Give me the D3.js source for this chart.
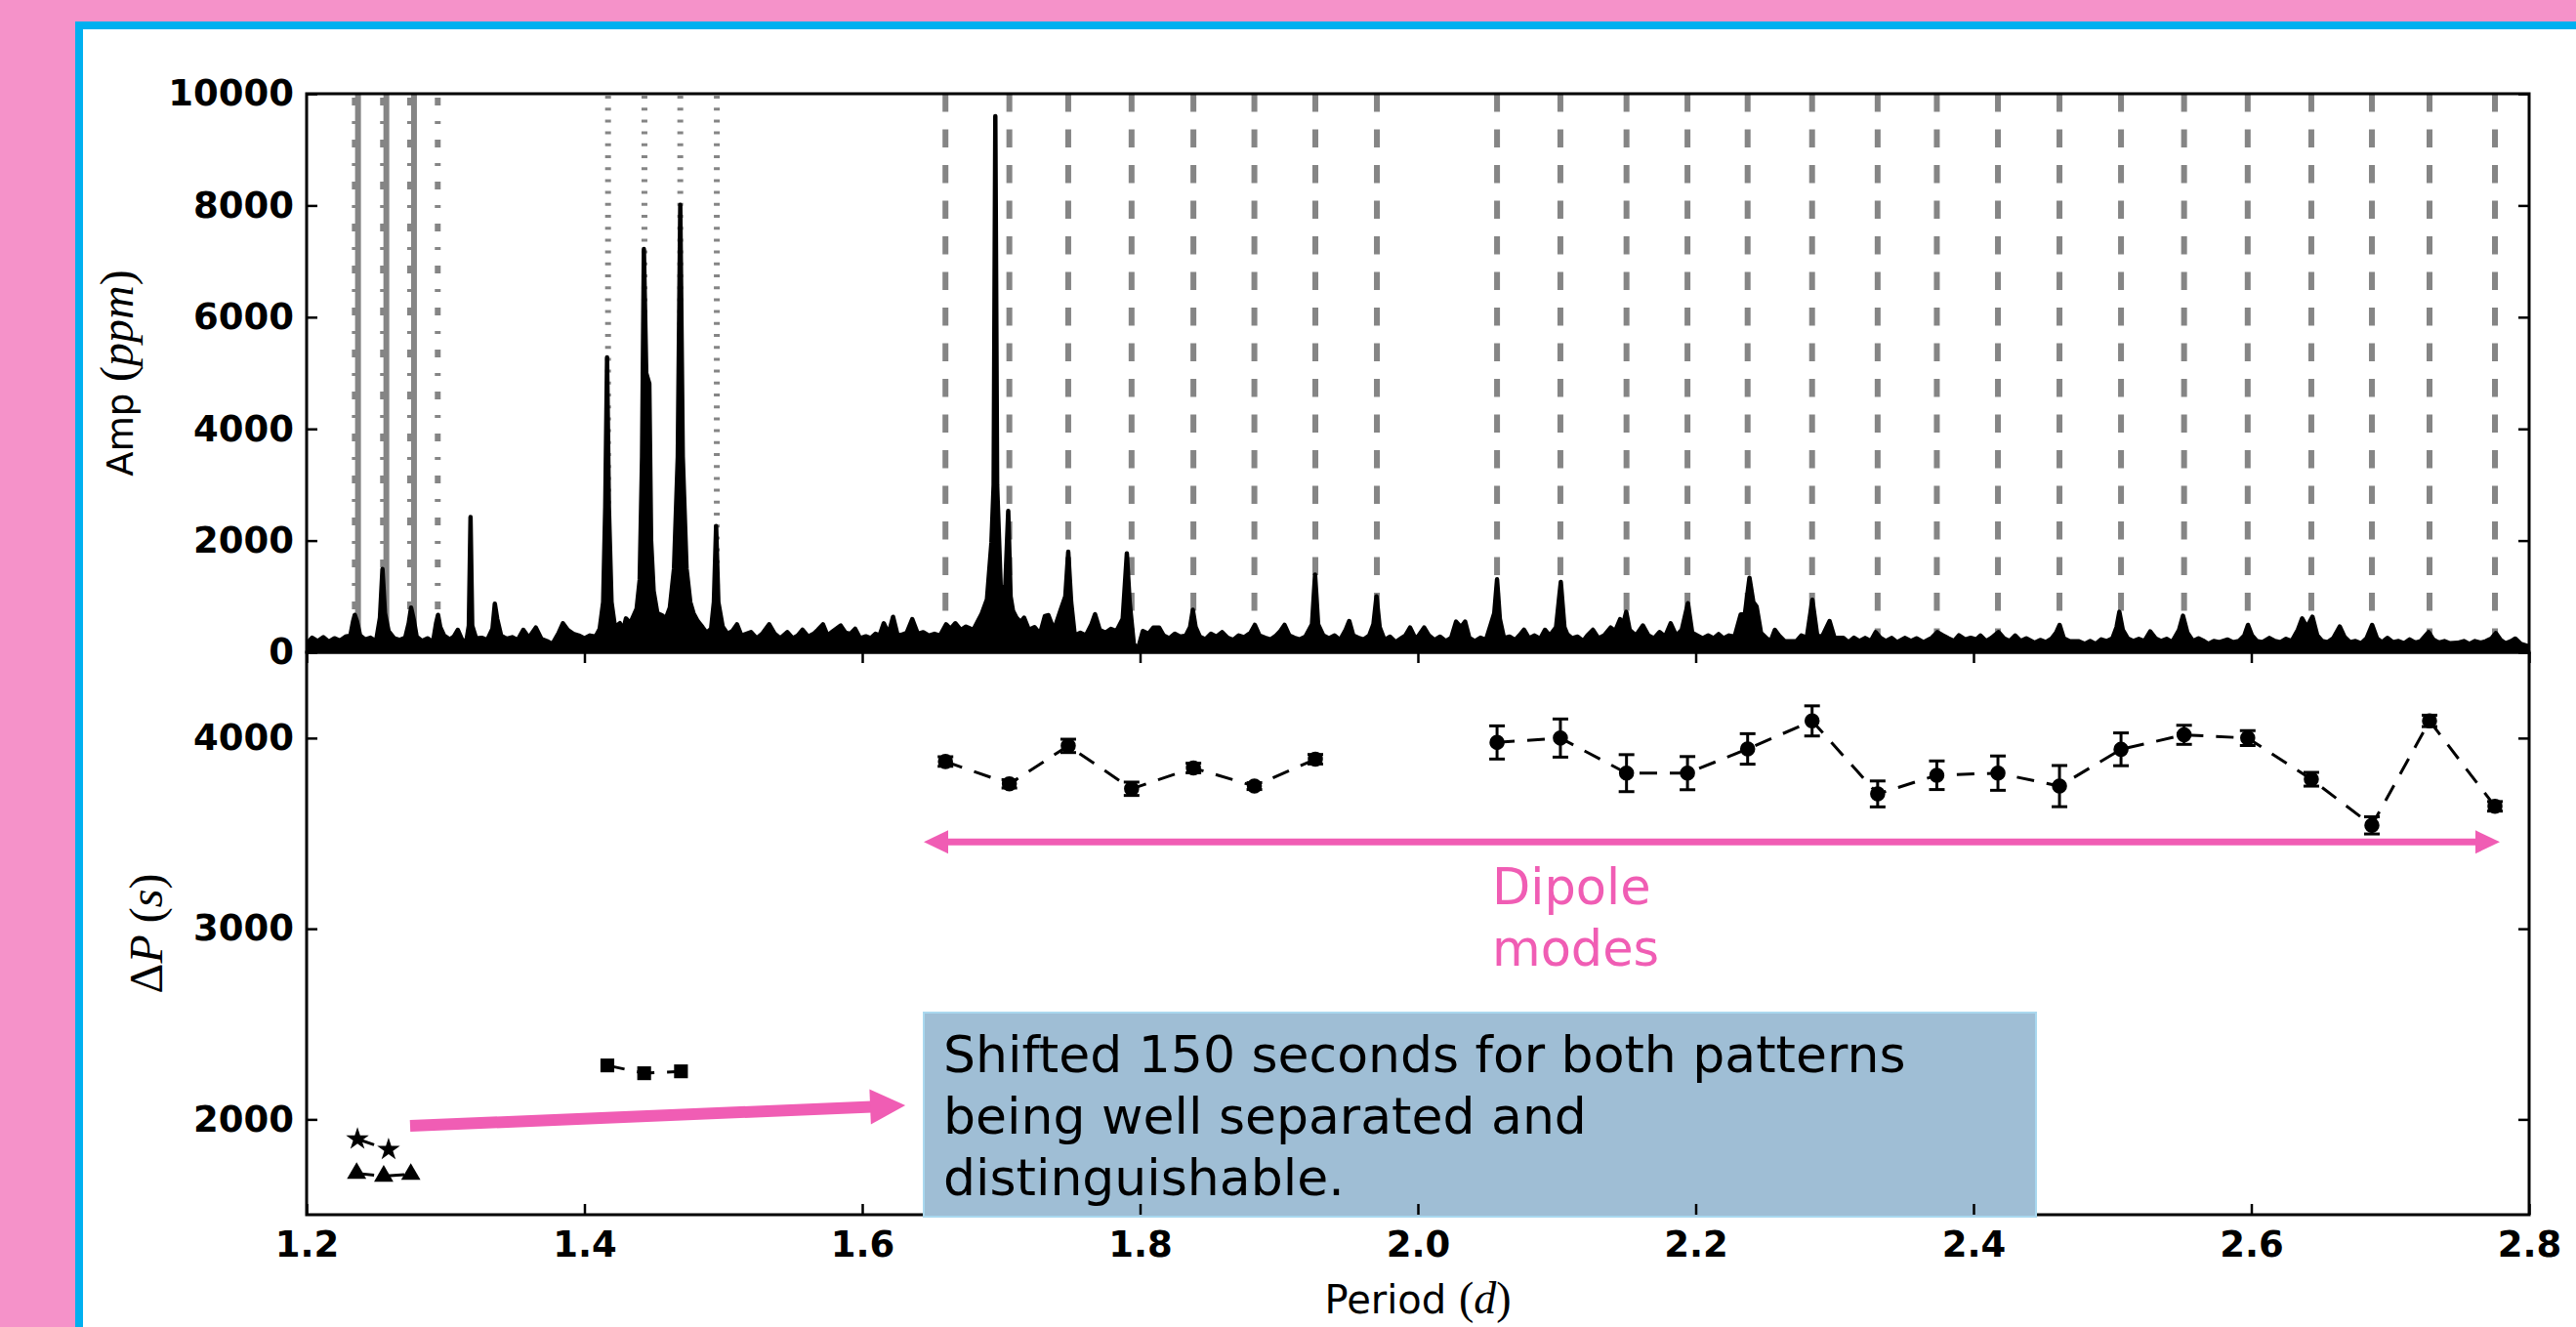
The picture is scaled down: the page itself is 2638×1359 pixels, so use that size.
<!DOCTYPE html>
<html>
<head>
<meta charset="utf-8">
<script src="https://cdn.jsdelivr.net/npm/d3@7"></script>
<style>
  html, body { margin: 0; padding: 0; background: #f592c9; }
  svg { display: block; }
</style>
</head>
<body>
<svg id="chart" width="2638" height="1359"></svg>
<script>
// ---------------- data ----------------
const periodTicks = [1.2, 1.4, 1.6, 1.8, 2.0, 2.2, 2.4, 2.6, 2.8];
const ampTicks = [0, 2000, 4000, 6000, 8000, 10000];
const spacingTicks = [2000, 3000, 4000];

// amplitude spectrum, [period (d), amplitude (ppm)], split by period range
const spectrumA = [
  [1.200,150],[1.204,260],[1.208,200],[1.212,270],[1.216,190],[1.220,250],[1.224,210],[1.228,280],
  [1.2315,300],[1.2335,560],[1.2347,670],[1.2362,560],[1.2385,300],[1.242,230],[1.246,260],[1.250,200],
  [1.2528,620],[1.2546,1490],[1.2564,700],[1.259,380],[1.263,250],[1.267,220],[1.271,260],[1.2735,520],
  [1.2752,800],[1.2770,600],[1.2792,280],[1.283,200],[1.287,250],[1.291,180],[1.2932,520],[1.2946,670],
  [1.2962,450],[1.299,300],[1.303,230],[1.306,280],[1.3088,402],[1.312,220],[1.315,200],[1.3168,480],
  [1.3180,2420],[1.3192,480],[1.322,250],[1.326,260],[1.330,220],[1.3338,420],[1.3355,870],[1.3372,600],
  [1.340,300],[1.344,240],[1.348,270],[1.352,220],[1.356,402],[1.360,260],[1.365,443],[1.369,240],
  [1.373,200],[1.377,150],[1.3815,350],[1.3845,519],[1.388,400],[1.392,330],[1.396,300]
];
const spectrumB = [
  [1.400,250],[1.404,300],[1.408,280],[1.4110,420],[1.4135,900],[1.4150,2600],[1.4163,5280],[1.4176,2600],
  [1.4195,900],[1.4220,450],[1.4255,520],[1.4280,400],[1.4299,606],[1.4330,520],[1.4376,781],[1.4398,1300],
  [1.4415,3500],[1.4428,7220],[1.4445,5000],[1.4467,4810],[1.4480,2000],[1.4498,1100],[1.4525,700],[1.4557,664],
  [1.4585,600],[1.4615,800],[1.4645,1500],[1.4672,3500],[1.4690,8010],[1.4708,3500],[1.4735,1500],[1.4762,900],
  [1.4785,700],[1.4815,559],[1.4850,450],[1.4880,350],[1.4912,420],[1.4932,900],[1.4948,2260],[1.4964,900],
  [1.4995,460],[1.503,330],[1.5065,380],[1.5098,500],[1.513,300],[1.5165,330],[1.5199,361],[1.524,250],
  [1.528,330],[1.533,500],[1.537,330],[1.541,250],[1.546,361],[1.550,250],[1.5535,300],[1.557,402],
  [1.561,280],[1.565,330],[1.568,400],[1.5717,500],[1.575,300],[1.579,380],[1.5845,478],[1.588,350],
  [1.5915,330],[1.5949,420],[1.5985,250]
];
const spectrumC = [
  [1.6026,285],[1.606,250],[1.6095,330],[1.6125,300],[1.6155,519],[1.6190,330],[1.6222,635],[1.6255,300],
  [1.6284,315],[1.632,350],[1.6360,594],[1.6400,330],[1.6439,360],[1.648,300],[1.652,330],[1.656,300],
  [1.6604,500],[1.6635,420],[1.6670,519],[1.6710,400],[1.6747,460],[1.6800,400],[1.6861,693],[1.6898,950],
  [1.6930,1960],[1.6946,3000],[1.6958,9600],[1.6971,3000],[1.6998,1090],[1.7030,1200],[1.7051,2530],[1.7068,1000],
  [1.7085,745],[1.7110,620],[1.7140,540],[1.7165,620],[1.7200,400],[1.7240,450],[1.7280,330],[1.7315,650],
  [1.7340,664],[1.7380,400],[1.7427,750],[1.7462,1000],[1.7483,1800],[1.7504,900],[1.7530,300],[1.757,350],
  [1.761,300],[1.7650,500],[1.7676,680],[1.7710,400],[1.775,350],[1.779,420],[1.783,380],[1.7875,600],
  [1.7905,1770],[1.7925,900],[1.7955,150],[1.7985,60],[1.8020,380],[1.806,330],[1.8095,440],[1.8137,443],
  [1.817,300],[1.821,250],[1.825,330],[1.829,280],[1.833,300],[1.8360,450],[1.8380,760],[1.8400,450],
  [1.843,280],[1.847,230],[1.851,330],[1.855,280],[1.859,360],[1.863,260],[1.867,220],[1.871,300],
  [1.875,270],[1.8795,350],[1.8826,490],[1.8860,300],[1.890,260],[1.894,230],[1.898,300],[1.9010,380],
  [1.9040,490],[1.9075,300],[1.911,260],[1.915,230],[1.919,280],[1.9238,500],[1.9260,1390],[1.9282,500],
  [1.932,300],[1.936,250],[1.940,300],[1.944,220],[1.9480,400],[1.9506,560],[1.9535,300],[1.957,260],
  [1.961,230],[1.9650,300],[1.9680,500],[1.9702,1000],[1.9725,450],[1.976,220],[1.980,280],[1.984,180],
  [1.988,250],[1.9910,300],[1.9944,443],[1.9980,260]
];
const spectrumD = [
  [2.000,280],[2.0045,443],[2.008,300],[2.012,220],[2.016,280],[2.020,200],[2.024,260],[2.0275,548],
  [2.031,450],[2.034,548],[2.037,260],[2.041,200],[2.045,260],[2.049,220],[2.0524,490],[2.0550,700],
  [2.0570,1305],[2.0590,600],[2.062,256],[2.066,280],[2.070,220],[2.073,300],[2.0764,402],[2.080,250],
  [2.084,300],[2.088,240],[2.0915,402],[2.095,300],[2.0995,450],[2.1029,1260],[2.1055,450],[2.1075,326],
  [2.111,250],[2.115,280],[2.119,200],[2.122,300],[2.126,402],[2.130,250],[2.134,300],[2.1388,443],
  [2.142,380],[2.1456,594],[2.1478,500],[2.1500,723],[2.1525,400],[2.157,300],[2.162,478],[2.166,300],
  [2.170,250],[2.174,361],[2.178,280],[2.182,519],[2.186,300],[2.190,400],[2.1944,880],[2.1975,350],
  [2.201,303],[2.205,250],[2.209,300],[2.213,250],[2.2165,326],[2.220,250],[2.224,300],[2.228,280],
  [2.2324,676],[2.2355,700],[2.2387,1334],[2.2415,900],[2.2438,822],[2.247,350],[2.251,250],[2.254,200],
  [2.257,402],[2.260,300],[2.264,200],[2.2725,198],[2.276,300],[2.280,260],[2.2840,938],[2.2875,300],
  [2.291,280],[2.2964,559],[2.300,256],[2.3063,256],[2.310,180],[2.314,260],[2.318,200],[2.322,256],
  [2.326,200],[2.3296,361],[2.333,260],[2.337,200],[2.341,256],[2.345,180],[2.3505,256],[2.355,200],
  [2.359,250],[2.364,180],[2.370,260],[2.374,361],[2.378,303],[2.382,250],[2.386,200],[2.3895,303],
  [2.394,230],[2.398,260]
];
const spectrumE = [
  [2.402,230],[2.405,300],[2.409,200],[2.413,260],[2.4180,361],[2.422,250],[2.426,200],[2.430,300],
  [2.434,200],[2.438,250],[2.4440,169],[2.448,220],[2.452,180],[2.456,240],[2.4595,350],[2.4620,490],
  [2.4650,250],[2.469,200],[2.4755,198],[2.480,150],[2.484,200],[2.488,150],[2.492,230],[2.496,200],
  [2.500,250],[2.5030,450],[2.5050,723],[2.5075,400],[2.511,250],[2.515,200],[2.519,240],[2.523,200],
  [2.5272,373],[2.531,250],[2.535,200],[2.539,240],[2.543,180],[2.5480,400],[2.5508,653],[2.5540,350],
  [2.558,200],[2.5620,250],[2.5652,210],[2.569,150],[2.573,200],[2.577,180],[2.5830,227],[2.587,180],
  [2.591,200],[2.5950,300],[2.5976,490],[2.6005,300],[2.604,200],[2.608,180],[2.6130,256],[2.617,200],
  [2.621,180],[2.625,240],[2.629,200],[2.6335,400],[2.6366,606],[2.6400,450],[2.6440,635],[2.6475,300],
  [2.651,200],[2.655,180],[2.659,250],[2.6637,460],[2.667,280],[2.671,180],[2.675,200],[2.679,160],
  [2.683,250],[2.6870,490],[2.6905,250],[2.694,180],[2.6980,256],[2.702,180],[2.706,200],[2.710,160],
  [2.714,230],[2.718,170],[2.722,200],[2.7277,361],[2.731,230],[2.735,170],[2.739,200],[2.743,160],
  [2.7485,169],[2.753,200],[2.757,150],[2.761,200],[2.765,170],[2.769,200],[2.7730,250],[2.7760,344],
  [2.7795,220],[2.783,160],[2.787,200],[2.7900,245],[2.794,150],[2.798,120],[2.800,100]
];

// identified mode periods (d), marked in the spectrum
const dipoleModePeriods = [1.6599, 1.7059, 1.7483, 1.7939, 1.8384, 1.8823, 1.9262, 1.9705,
  2.0570, 2.1026, 2.1502, 2.1941, 2.2374, 2.2838, 2.3310, 2.3736, 2.4176, 2.4619, 2.5062,
  2.5516, 2.5974, 2.6432, 2.6868, 2.7283, 2.7754];
const dashDotModePeriods = [1.2347, 1.2550, 1.2745, 1.2944];
const solidModePeriods = [1.2370, 1.2574, 1.2773];
const dottedModePeriods = [1.4170, 1.4432, 1.4690, 1.4953];

// period spacings (s) with uncertainties
const dipoleRun1Period = [1.6599, 1.7059, 1.7483, 1.7939, 1.8384, 1.8823, 1.9262];
const dipoleRun1Spacing = [3877, 3760, 3959, 3734, 3843, 3748, 3889];
const dipoleRun1Error = [25, 22, 35, 35, 25, 18, 25];
const dipoleRun2Period = [2.0570, 2.1026, 2.1502, 2.1941, 2.2374, 2.2838, 2.3310, 2.3736, 2.4176,
  2.4619, 2.5062, 2.5516, 2.5974, 2.6432, 2.6868, 2.7283, 2.7754];
const dipoleRun2Spacing = [3977, 4000, 3816, 3816, 3943, 4090, 3707, 3805, 3816, 3748, 3941, 4017,
  4000, 3784, 3542, 4090, 3642];
const dipoleRun2Error = [87, 100, 97, 87, 80, 79, 68, 75, 90, 108, 86, 50, 39, 36, 45, 30, 25];
const starPeriod = [1.2366, 1.2590];
const starSpacing = [1897, 1841];
const trianglePeriod = [1.2360, 1.2555, 1.2750];
const triangleSpacing = [1717, 1702, 1712];
const squarePeriod = [1.4165, 1.4430, 1.4695];
const squareSpacing = [2283, 2242, 2252];

const annotationLines = ["Shifted 150 seconds for both patterns", "being well separated and", "distinguishable."];
const dipoleLabel = ["Dipole", "modes"];

// ---------------- layout ----------------
const W = 2638, H = 1359;
const L = 314, R = 2590, T = 96, M = 668, B = 1244;
const pink = "#f05db4";
const sans = "DejaVu Sans";
const serif = "Liberation Serif";

const svg = d3.select("#chart");

// slide background: pink page, blue rule, white card
svg.append("rect").attr("width", W).attr("height", H).attr("fill", "#f592c9");
svg.append("rect").attr("x", 77).attr("y", 22).attr("width", W - 77).attr("height", H - 22).attr("fill", "#00b0f0");
svg.append("rect").attr("x", 85).attr("y", 30).attr("width", W - 85).attr("height", H - 30).attr("fill", "#ffffff");

const x = d3.scaleLinear().domain([1.2, 2.8]).range([L, R]);
const yAmp = d3.scaleLinear().domain([0, 10000]).range([M, T]);
const yDP = d3.scaleLinear().domain([1500, 4450]).range([B, M]);

const defs = svg.append("defs");
defs.append("clipPath").attr("id", "clipTop").append("rect")
  .attr("x", L).attr("y", T).attr("width", R - L).attr("height", M - T);
defs.append("clipPath").attr("id", "clipBottom").append("rect")
  .attr("x", L).attr("y", M).attr("width", R - L).attr("height", B - M);

// ---------------- amplitude panel ----------------
const ampPanel = svg.append("g").attr("clip-path", "url(#clipTop)");

function modeLines(periods, dash, offset) {
  ampPanel.append("g").selectAll("line").data(periods).join("line")
    .attr("x1", d => x(d)).attr("x2", d => x(d))
    .attr("y1", yAmp(10000)).attr("y2", yAmp(0))
    .attr("stroke", "#858585").attr("stroke-width", 6)
    .attr("stroke-dasharray", dash).attr("stroke-dashoffset", offset);
}
modeLines(dipoleModePeriods, "18.5,18", 0);
modeLines(dashDotModePeriods, "8,16,3,16", -4);
modeLines(solidModePeriods, null, 0);
modeLines(dottedModePeriods, "3,9.2", -2);

const spectrum = [].concat(spectrumA, spectrumB, spectrumC, spectrumD, spectrumE);
ampPanel.append("path").datum(spectrum)
  .attr("d", d3.area().x(d => x(d[0])).y0(yAmp(0)).y1(d => yAmp(d[1])))
  .attr("fill", "#000").attr("stroke", "#000").attr("stroke-width", 4.5)
  .attr("stroke-linejoin", "round");

// ---------------- period-spacing panel ----------------
const spacingPanel = svg.append("g").attr("clip-path", "url(#clipBottom)");
const dpLine = d3.line().x(d => x(d[0])).y(d => yDP(d[1]));

function series(periods, spacing, errors, symbol, size) {
  const pts = periods.map((p, i) => [p, spacing[i], errors ? errors[i] : 0]);
  spacingPanel.append("path").datum(pts).attr("d", dpLine)
    .attr("fill", "none").attr("stroke", "#000").attr("stroke-width", 3)
    .attr("stroke-dasharray", "18,13");
  if (errors) {
    const eb = spacingPanel.append("g").attr("stroke", "#000").attr("stroke-width", 3);
    pts.forEach(d => {
      const cx = x(d[0]);
      eb.append("line").attr("x1", cx).attr("x2", cx).attr("y1", yDP(d[1] - d[2])).attr("y2", yDP(d[1] + d[2]));
      eb.append("line").attr("x1", cx - 8).attr("x2", cx + 8).attr("y1", yDP(d[1] - d[2])).attr("y2", yDP(d[1] - d[2]));
      eb.append("line").attr("x1", cx - 8).attr("x2", cx + 8).attr("y1", yDP(d[1] + d[2])).attr("y2", yDP(d[1] + d[2]));
    });
  }
  spacingPanel.append("g").selectAll("path").data(pts).join("path")
    .attr("transform", d => `translate(${x(d[0])},${yDP(d[1])})`)
    .attr("d", d3.symbol(symbol, size)).attr("fill", "#000");
}
series(dipoleRun1Period, dipoleRun1Spacing, dipoleRun1Error, d3.symbolCircle, 190);
series(dipoleRun2Period, dipoleRun2Spacing, dipoleRun2Error, d3.symbolCircle, 190);
series(starPeriod, starSpacing, null, d3.symbolStar, 170);
series(trianglePeriod, triangleSpacing, null, d3.symbolTriangle, 170);
series(squarePeriod, squareSpacing, null, d3.symbolSquare, 200);

// ---------------- frames and axes ----------------
svg.append("rect").attr("x", L).attr("y", T).attr("width", R - L).attr("height", M - T)
  .attr("fill", "none").attr("stroke", "#000").attr("stroke-width", 3);
svg.append("rect").attr("x", L).attr("y", M).attr("width", R - L).attr("height", B - M)
  .attr("fill", "none").attr("stroke", "#000").attr("stroke-width", 3);

function styleAxis(g) {
  g.select(".domain").remove();
  g.selectAll(".tick line").attr("stroke", "#000").attr("stroke-width", 2.5);
  g.selectAll(".tick text").attr("fill", "#000")
    .attr("font-family", sans).attr("font-weight", "bold").attr("font-size", 37);
}
svg.append("g").attr("transform", `translate(${L},0)`)
  .call(d3.axisLeft(yAmp).tickValues(ampTicks).tickSize(-11).tickPadding(13).tickFormat(d3.format("d")))
  .call(styleAxis);
svg.append("g").attr("transform", `translate(${R},0)`)
  .call(d3.axisRight(yAmp).tickValues(ampTicks).tickSize(-11).tickFormat(""))
  .call(styleAxis);
svg.append("g").attr("transform", `translate(${L},0)`)
  .call(d3.axisLeft(yDP).tickValues(spacingTicks).tickSize(-11).tickPadding(13).tickFormat(d3.format("d")))
  .call(styleAxis);
svg.append("g").attr("transform", `translate(${R},0)`)
  .call(d3.axisRight(yDP).tickValues(spacingTicks).tickSize(-11).tickFormat(""))
  .call(styleAxis);
svg.append("g").attr("transform", `translate(0,${M})`)
  .call(d3.axisTop(x).tickValues(periodTicks).tickSize(-11).tickFormat(""))
  .call(styleAxis);

// annotation box sits over the lower spine
svg.append("rect")
  .attr("x", x(1.6443)).attr("y", yDP(2560))
  .attr("width", x(2.445) - x(1.6443)).attr("height", yDP(1500) - yDP(2560) + 2)
  .attr("fill", "#9fbed5").attr("stroke", "#a9d8ef").attr("stroke-width", 2);
svg.append("g").selectAll("text").data(annotationLines).join("text")
  .attr("x", x(1.6443) + 20).attr("y", (d, i) => yDP(2560) + 61 + i * 63)
  .attr("font-family", sans).attr("font-size", 52).attr("fill", "#000")
  .text(d => d);

svg.append("g").attr("transform", `translate(0,${B})`)
  .call(d3.axisBottom(x).tickValues(periodTicks).tickSize(-11).tickPadding(17).tickFormat(d3.format(".1f")))
  .call(styleAxis);

// axis titles
const xt = svg.append("text").attr("x", (L + R) / 2).attr("y", 1345)
  .attr("text-anchor", "middle").attr("font-family", sans).attr("font-size", 40).attr("fill", "#000");
xt.append("tspan").text("Period ");
xt.append("tspan").attr("font-family", serif).attr("font-size", 46).text("(");
xt.append("tspan").attr("font-family", serif).attr("font-size", 46).attr("font-style", "italic").text("d");
xt.append("tspan").attr("font-family", serif).attr("font-size", 46).text(")");

const ya = svg.append("text").attr("transform", `translate(136,${(T + M) / 2}) rotate(-90)`)
  .attr("text-anchor", "middle").attr("font-family", sans).attr("font-size", 37).attr("fill", "#000");
ya.append("tspan").text("Amp ");
ya.append("tspan").attr("font-family", serif).attr("font-size", 48).text("(");
ya.append("tspan").attr("font-family", serif).attr("font-size", 48).attr("font-style", "italic").text("ppm");
ya.append("tspan").attr("font-family", serif).attr("font-size", 48).text(")");

const yb = svg.append("text").attr("transform", `translate(166,${(M + B) / 2}) rotate(-90)`)
  .attr("text-anchor", "middle").attr("font-family", serif).attr("font-size", 48).attr("fill", "#000");
yb.append("tspan").text("\u0394");
yb.append("tspan").attr("font-style", "italic").text("P");
yb.append("tspan").text(" (");
yb.append("tspan").attr("font-style", "italic").text("s");
yb.append("tspan").text(")");

// ---------------- pink call-outs ----------------
function arrowHead(tip, dir, len, half) {
  const [tx, ty] = tip, [dx, dy] = dir;
  const bx = tx - dx * len, by = ty - dy * len;
  return `M${tx},${ty}L${bx - dy * half},${by + dx * half}L${bx + dy * half},${by - dx * half}Z`;
}
// dipole range arrow (double headed)
const aY = yDP(3455), aL = x(1.6443), aR = x(2.7789);
svg.append("line").attr("x1", aL + 20).attr("x2", aR - 20).attr("y1", aY).attr("y2", aY)
  .attr("stroke", pink).attr("stroke-width", 7);
svg.append("path").attr("d", arrowHead([aL, aY], [-1, 0], 25, 12)).attr("fill", pink);
svg.append("path").attr("d", arrowHead([aR, aY], [1, 0], 25, 12)).attr("fill", pink);

svg.append("g").selectAll("text").data(dipoleLabel).join("text")
  .attr("x", x(2.0534)).attr("y", (d, i) => yDP(3128) + i * 63)
  .attr("font-family", sans).attr("font-size", 51).attr("fill", pink)
  .text(d => d);

// shift arrow pointing at the note
const s0 = [x(1.2745), yDP(1966)], s1 = [x(1.631), yDP(2073)];
const len = Math.hypot(s1[0] - s0[0], s1[1] - s0[1]);
const dir = [(s1[0] - s0[0]) / len, (s1[1] - s0[1]) / len];
svg.append("line").attr("x1", s0[0]).attr("y1", s0[1])
  .attr("x2", s1[0] - dir[0] * 34).attr("y2", s1[1] - dir[1] * 34)
  .attr("stroke", pink).attr("stroke-width", 12);
svg.append("path").attr("d", arrowHead(s1, dir, 36, 18)).attr("fill", pink);
</script>
</body>
</html>
